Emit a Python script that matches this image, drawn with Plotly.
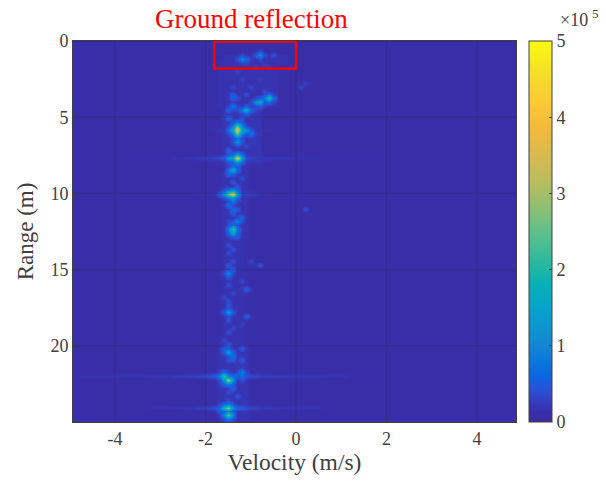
import plotly.graph_objects as go

FONT = "Liberation Serif"
INK = "#404040"

x_ticks = [-4, -2, 0, 2, 4]
y_ticks = [0, 5, 10, 15, 20]
cbar_ticks = [0, 1, 2, 3, 4, 5]
background = 0.12

# estimated bright cells (velocity m/s, range m, value x 1e5)
hot_v = [-1.21, -1.08, -0.82, -0.46, -0.55, -0.8, -0.95, -1.08, -1.24, -1.41, -1.41,
         -1.3, -1.26, -1.4, -1.3, -1.3, -1.3, -1.45, -1.06, -0.98,
         -1.37, -1.47, -1.57, -1.37, -1.43, -1.43, -1.3, -1.43, 0.18, -0.77, -0.97, -1.46, -1.08,
         -1.52, -1.15, -1.52, -1.42, -1.24, -1.22, -1.22, -1.52, -1.65, -1.52, -1.52, -1.65, -1.28, 0.15, 0.25]
hot_r = [1.04, 1.04, 1.0, 0.85, 3.67, 3.95, 4.05, 4.6, 4.6, 4.2, 3.7,
         5.77, 5.5, 5.77, 6.16, 6.6, 7.6, 7.6, 5.77, 6.16,
         10.03, 10.03, 10.03, 8.5, 12.4, 12.7, 11.87, 11.08, 10.95, 14.6, 14.4, 15.3, 16.3,
         17.7, 18.1, 20.4, 20.7, 20.1, 21.0, 21.6, 22.1, 21.9, 24.07, 24.5, 24.07, 24.07, 3.0, 2.8]
hot_z = [1.0, 0.65, 1.1, 0.45, 2.0, 1.5, 1.0, 1.6, 0.85, 0.85, 0.6,
         3.8, 2.5, 1.7, 2.3, 1.2, 3.7, 1.2, 1.2, 0.8,
         3.7, 2.5, 1.2, 1.7, 2.2, 1.5, 1.0, 0.65, 0.42, 0.45, 0.4, 1.0, 0.6,
         1.3, 0.55, 1.4, 0.75, 0.5, 0.55, 0.95, 3.0, 2.2, 2.8, 2.5, 1.8, 0.65, 0.38, 0.3]

# estimated faint cells of the vertical band
band_v = [-1.1, -0.95, -0.7, -0.6, -1.3, -1.2, -1.4, -1.0, -0.85, -0.7, -1.4, -1.3, -1.15, -1.5, -1.2, -1.1, -0.9, -0.7,
          -1.5, -1.4, -1.2, -1.1, -1.5, -1.2, -1.4, -1.3, -1.5, -1.2, -1.4, -1.3, -1.4, -1.5, -1.3, -1.4, -1.2, -1.5,
          -1.4, -1.3, -1.5, -1.4, -1.5, -1.4, -1.5, -1.4, -1.5, -1.2, -1.5, -1.4, -1.6, -1.5, -1.5, -1.6, -1.5, -1.2,
          -1.4, -1.5, -1.6, -1.5, -1.6, -1.4, -1.5, -1.2, -1.6, -1.4, -1.5, -1.3, -1.5, -1.4, -1.5, -1.7]
band_r = [1.4, 1.7, 1.3, 1.6, 2.0, 2.5, 2.9, 3.1, 2.6, 3.3, 3.4, 3.8, 3.4, 4.5, 5.0, 4.9, 4.5, 4.3,
          5.2, 6.1, 6.6, 6.9, 7.1, 7.3, 8.0, 8.2, 8.7, 8.9, 9.2, 9.4, 10.4, 10.7, 11.0, 11.4, 11.6, 11.9,
          12.1, 12.9, 13.3, 13.6, 14.0, 14.4, 14.8, 15.0, 15.6, 15.7, 16.0, 16.4, 16.8, 17.1, 17.4, 17.9, 18.3, 18.5,
          18.8, 19.2, 19.6, 20.0, 20.2, 20.9, 21.0, 22.3, 22.4, 22.7, 23.0, 23.2, 23.5, 23.8, 24.8, 24.4]
band_z = [0.3, 0.27, 0.27, 0.25, 0.3, 0.33, 0.36, 0.36, 0.27, 0.36, 0.6, 0.42, 0.42, 0.6, 0.48, 0.42, 0.36, 0.3,
          0.7, 0.8, 0.48, 0.36, 0.6, 0.42, 0.55, 0.55, 0.65, 0.42, 0.48, 0.48, 0.9, 0.7, 0.48, 0.6, 0.55, 0.36,
          0.55, 0.48, 0.42, 0.42, 0.42, 0.42, 0.48, 0.48, 0.55, 0.36, 0.42, 0.36, 0.36, 0.42, 0.48, 0.48, 0.48, 0.3,
          0.36, 0.42, 0.36, 0.48, 0.6, 0.48, 0.42, 0.42, 0.6, 0.6, 0.42, 0.48, 0.36, 0.42, 0.8, 0.48]

# estimated faint regions around the band
patch_r0 = [0.8, 1.2, 4.5, 8.0, 13.0, 20.0, 0.8]
patch_r1 = [25.0, 4.5, 8.0, 13.0, 20.0, 25.0, 1.6]
patch_v0 = [-1.9, -1.7, -1.6, -1.6, -1.6, -1.7, -1.6]
patch_v1 = [-0.8, -0.4, -0.8, -1.1, -1.2, -1.1, -0.2]
patch_z = [0.145, 0.18, 0.2, 0.19, 0.18, 0.2, 0.18]

# estimated horizontal streaks
streak_r = [7.6, 21.95, 24.1, 10.03, 5.77]
streak_v = [-4.8, -4.0, -3.2, -2.7, -2.4, -2.2, -2.0, -1.8, -1.7, -1.1, -1.0, -0.8, -0.5, 0.0, 0.6, 1.2, 2.0]
streak_z = [[0.13, 0.14, 0.16, 0.18, 0.2, 0.23, 0.26, 0.3, 0.36, 0.36, 0.28, 0.23, 0.2, 0.17, 0.15, 0.14, 0.13],
            [0.17, 0.19, 0.22, 0.25, 0.28, 0.31, 0.38, 0.5, 0.65, 0.42, 0.34, 0.28, 0.25, 0.22, 0.19, 0.16, 0.14],
            [0.14, 0.16, 0.18, 0.2, 0.23, 0.27, 0.32, 0.42, 0.55, 0.38, 0.3, 0.26, 0.22, 0.19, 0.16, 0.14, 0.13],
            [0.12, 0.13, 0.13, 0.14, 0.15, 0.17, 0.19, 0.22, 0.25, 0.28, 0.24, 0.18, 0.15, 0.14, 0.13, 0.12, 0.12],
            [0.12, 0.12, 0.13, 0.13, 0.14, 0.15, 0.16, 0.18, 0.22, 0.26, 0.22, 0.18, 0.15, 0.13, 0.12, 0.12, 0.12]]

# velocity and range bin centres
velocity_bins = [round(-4.9 + 0.1 * i, 2) for i in range(99)]
range_bins = [round(0.13 + 0.26 * i, 2) for i in range(97)]

z = [[background for _ in velocity_bins] for _ in range_bins]


def nearest(bins, value):
    return min(range(len(bins)), key=lambda i: abs(bins[i] - value))


def put(i, j, val):
    if 0 <= i < len(range_bins) and 0 <= j < len(velocity_bins):
        z[i][j] = max(z[i][j], val)


def put_blob(v, r, val):
    """A cell plus the slight blur that the picture shows around it."""
    i, j = nearest(range_bins, r), nearest(velocity_bins, v)
    put(i, j, val)
    for di, dj, share in [(0, 1, 0.38), (0, -1, 0.38), (1, 0, 0.32), (-1, 0, 0.32),
                          (1, 1, 0.16), (1, -1, 0.16), (-1, 1, 0.16), (-1, -1, 0.16)]:
        put(i + di, j + dj, val * share)


for r0, r1, v0, v1, val in zip(patch_r0, patch_r1, patch_v0, patch_v1, patch_z):
    for i, r in enumerate(range_bins):
        for j, v in enumerate(velocity_bins):
            if r0 <= r <= r1 and v0 <= v <= v1:
                put(i, j, val)
for r, row in zip(streak_r, streak_z):
    for a in range(len(streak_v) - 1):
        for j, b in enumerate(velocity_bins):
            if streak_v[a] <= b < streak_v[a + 1]:
                put(nearest(range_bins, r), j, row[a])
for v, r, val in zip(band_v, band_r, band_z):
    put_blob(v, r, val)
for v, r, val in zip(hot_v, hot_r, hot_z):
    put_blob(v, r, val)

parula = [
    [0.0, "#3a2ca4"], [0.03, "#382ea9"], [0.06, "#3342c6"], [0.09, "#2755dc"], [0.12, "#0a66e0"],
    [0.16, "#0a78db"], [0.2, "#1385d4"], [0.25, "#0e95cf"], [0.3, "#06a4ca"], [0.36, "#05b0b5"],
    [0.42, "#2bb99f"], [0.5, "#5fc08b"], [0.56, "#8cbf73"], [0.63, "#b8bd5f"], [0.7, "#d8ba4f"],
    [0.77, "#f3b93c"], [0.84, "#fcc936"], [0.92, "#f5e026"], [1.0, "#f9fb0e"],
]

fig = go.Figure(go.Heatmap(
    x=velocity_bins, y=range_bins, z=z, zmin=0, zmax=5, zsmooth="best",
    colorscale=parula, hoverinfo="skip",
    colorbar=dict(
        x=1.029, xanchor="left", xref="paper", y=0.5, yanchor="middle", len=1, lenmode="fraction",
        thickness=23, thicknessmode="pixels", tickvals=cbar_ticks, ticks="inside", ticklen=3,
        tickcolor=INK, outlinecolor=INK, outlinewidth=1, xpad=0, ypad=0,
        tickfont=dict(family=FONT, size=18, color=INK),
    ),
))

for t in x_ticks:
    fig.add_shape(type="line", xref="x", yref="paper", x0=t, x1=t, y0=0, y1=1,
                  line=dict(color="rgba(40,40,60,0.22)", width=1))
for t in y_ticks:
    fig.add_shape(type="line", xref="paper", yref="y", x0=0, x1=1, y0=t, y1=t,
                  line=dict(color="rgba(40,40,60,0.22)", width=1))
fig.add_shape(type="rect", xref="x", yref="y", x0=-1.81, x1=0.0, y0=0.03, y1=1.8,
              line=dict(color="#ff0000", width=2.5))

fig.add_annotation(text="Ground reflection", xref="x", yref="paper", x=-0.98, y=1, yshift=5,
                   yanchor="bottom", xanchor="center", showarrow=False,
                   font=dict(family=FONT, size=27, color="#ff0000"))
fig.add_annotation(text="×10", xref="paper", yref="paper", x=1.167, y=1, yshift=9,
                   xanchor="right", yanchor="bottom", showarrow=False,
                   font=dict(family=FONT, size=18, color=INK))
fig.add_annotation(text="5", xref="paper", yref="paper", x=1.167, y=1, yshift=18,
                   xanchor="left", yanchor="bottom", showarrow=False,
                   font=dict(family=FONT, size=13, color=INK))

axis_common = dict(showgrid=False, zeroline=False, ticks="inside", ticklen=4, tickcolor=INK,
                   showline=True, mirror=True, linecolor=INK, linewidth=1,
                   tickfont=dict(family=FONT, size=18, color=INK))
fig.update_xaxes(range=[-4.93, 4.86], tickvals=x_ticks, ticktext=["-4", "-2", "0", "2", "4"],
                 title=dict(text="Velocity (m/s)", standoff=2,
                            font=dict(family=FONT, size=23.5, color=INK)), **axis_common)
fig.update_yaxes(range=[25, 0], tickvals=y_ticks,
                 title=dict(text="Range (m)", standoff=10,
                            font=dict(family=FONT, size=23, color=INK)), **axis_common)
fig.update_layout(width=606, height=486, margin=dict(l=73, r=90, t=41, b=64),
                  paper_bgcolor="white", plot_bgcolor="#3a2ca4", showlegend=False)
fig.write_html("out.html", config={"displayModeBar": False},
               post_script="document.body.style.margin='0';document.body.style.overflow='hidden';")
